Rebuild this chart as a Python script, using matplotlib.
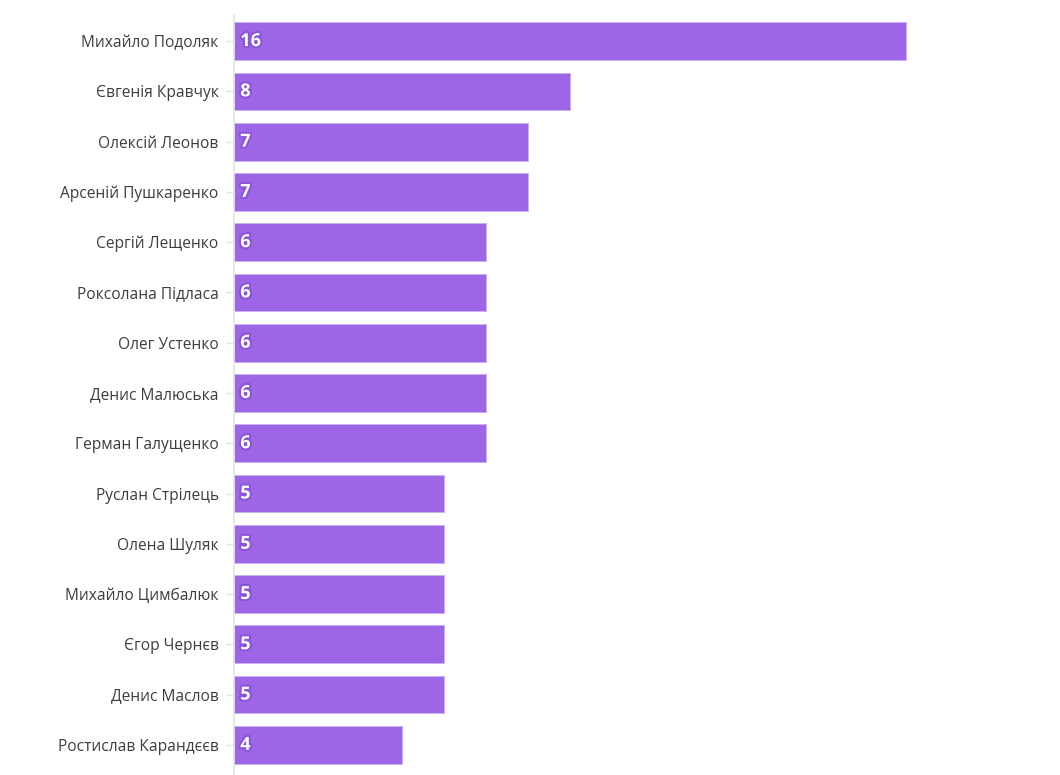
import matplotlib
matplotlib.use("Agg")
import matplotlib.pyplot as plt
import matplotlib.patheffects as pe

names = [
    "Михайло Подоляк", "Євгенія Кравчук", "Олексій Леонов", "Арсеній Пушкаренко",
    "Сергій Лещенко", "Роксолана Підласа", "Олег Устенко", "Денис Малюська",
    "Герман Галущенко", "Руслан Стрілець", "Олена Шуляк", "Михайло Цимбалюк",
    "Єгор Чернєв", "Денис Маслов", "Ростислав Карандєєв",
]
counts = [16, 8, 7, 7, 6, 6, 6, 6, 6, 5, 5, 5, 5, 5, 4]

bar_color = "#9d66e6"

plt.rcParams["font.family"] = ["Open Sans", "DejaVu Sans"]

fig = plt.figure(figsize=(10.6, 7.75), dpi=100)
ax = fig.add_axes([234 / 1060, 0, (1032 - 234) / 1060, 1 - 15 / 775])

y = list(range(len(names)))
ax.barh(y, counts, height=0.75, color=bar_color, edgecolor="#c9b0f0", linewidth=0.6)

for yi, c in zip(y, counts):
    ax.text(0.15, yi, str(c), ha="left", va="center", color="white",
            fontsize=13, fontweight="bold",
            path_effects=[pe.withStroke(linewidth=3, foreground="#8a55d8")])

ax.set_yticks(y)
ax.set_yticklabels(names, fontsize=11.2, color="#3d3d3d")
ax.set_ylim(len(names) - 1 + 0.6, -0.52)
ax.set_xlim(0, 19)
ax.set_xticks([])

for s in ["top", "right", "bottom"]:
    ax.spines[s].set_visible(False)
ax.spines["left"].set_color("#e3e3e3")
ax.spines["left"].set_linewidth(1.2)
ax.tick_params(axis="y", length=6, width=1, color="#e3e3e3", pad=5)

fig.savefig("out.png", dpi=100)
